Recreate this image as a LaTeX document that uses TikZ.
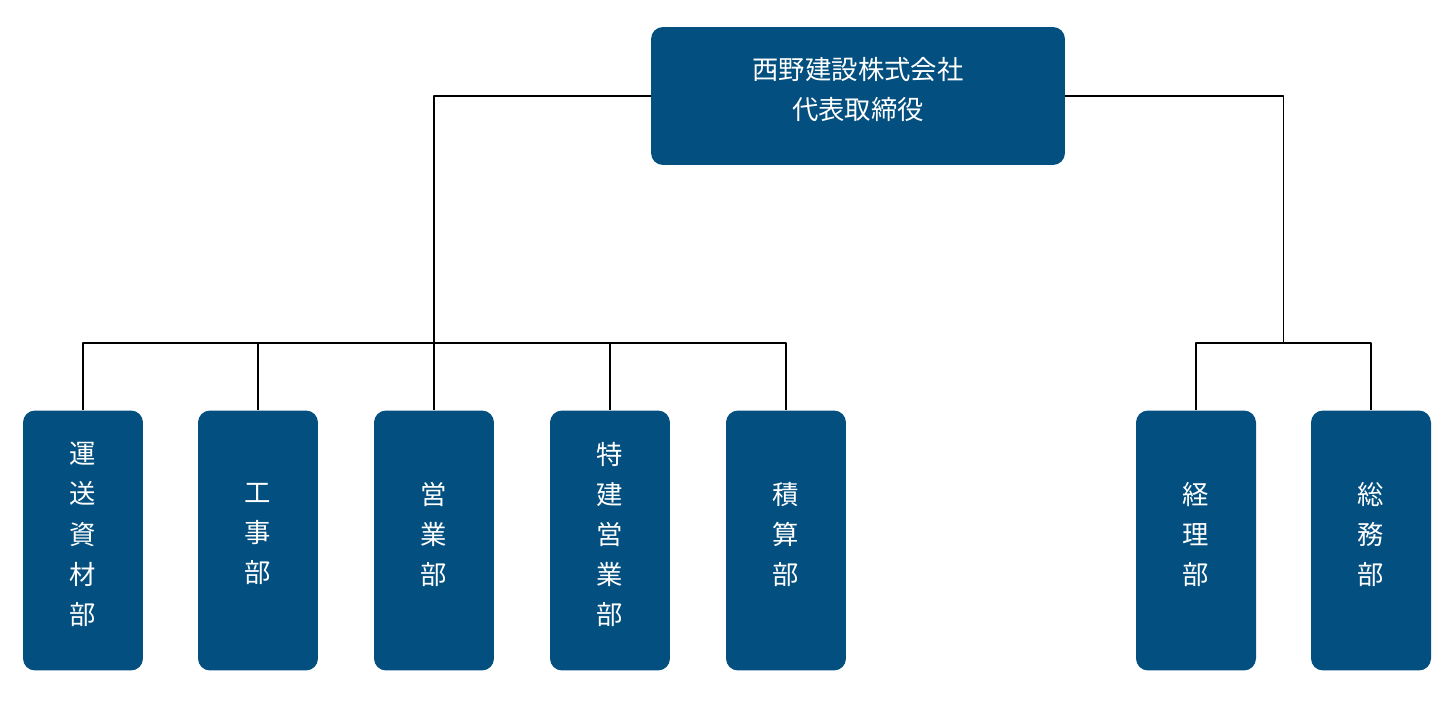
\documentclass[tikz,border=0pt]{standalone}
\usepackage{fontspec}
\usetikzlibrary{calc}
\newfontfamily\jpfont{Noto Sans CJK JP}
\definecolor{orgblue}{RGB}{3,79,127}
\begin{document}
\begin{tikzpicture}[x=0.02cm, y=-0.02cm, line join=round,
  box/.style={fill=orgblue, rounded corners=0.24cm, text=white, align=center,
    font=\jpfont\fontsize{15}{22.8}\selectfont, text depth=0.29cm, inner sep=0pt},
  head/.style={box, minimum width=8.28cm, minimum height=2.76cm},
  dept/.style={box, minimum width=2.4cm, minimum height=5.2cm},
  wire/.style={draw=black, line width=0.8pt}]
\useasboundingbox (0,0) rectangle (1450,700);
% president
\node[head] (pres) at (858,96) {西野建設株式会社\\代表取締役};
% departments
\node[dept] (unso) at (83,540.5) {運\\送\\資\\材\\部};
\node[dept] (koji) at (258,540.5) {工\\事\\部};
\node[dept] (eigyo) at (434,540.5) {営\\業\\部};
\node[dept] (tokken) at (610,540.5) {特\\建\\営\\業\\部};
\node[dept] (seki) at (786,540.5) {積\\算\\部};
\node[dept] (keiri) at (1196,540.5) {経\\理\\部};
\node[dept] (somu) at (1371,540.5) {総\\務\\部};
\coordinate (bus) at (0,343);
\coordinate (busR) at ($(keiri.north)!0.5!(somu.north)$);
% lines
\draw[wire] (pres.west) -| (eigyo.north);
\draw[wire] (unso.north) |- (seki.north |- bus) -- (seki.north);
\foreach \d in {koji,tokken}
  \draw[wire] (\d.north) -- (\d.north |- bus);
\draw[wire] (pres.east) -| (busR |- bus);
\draw[wire] (keiri.north) |- (busR |- bus) -| (somu.north);
\end{tikzpicture}
\end{document}
